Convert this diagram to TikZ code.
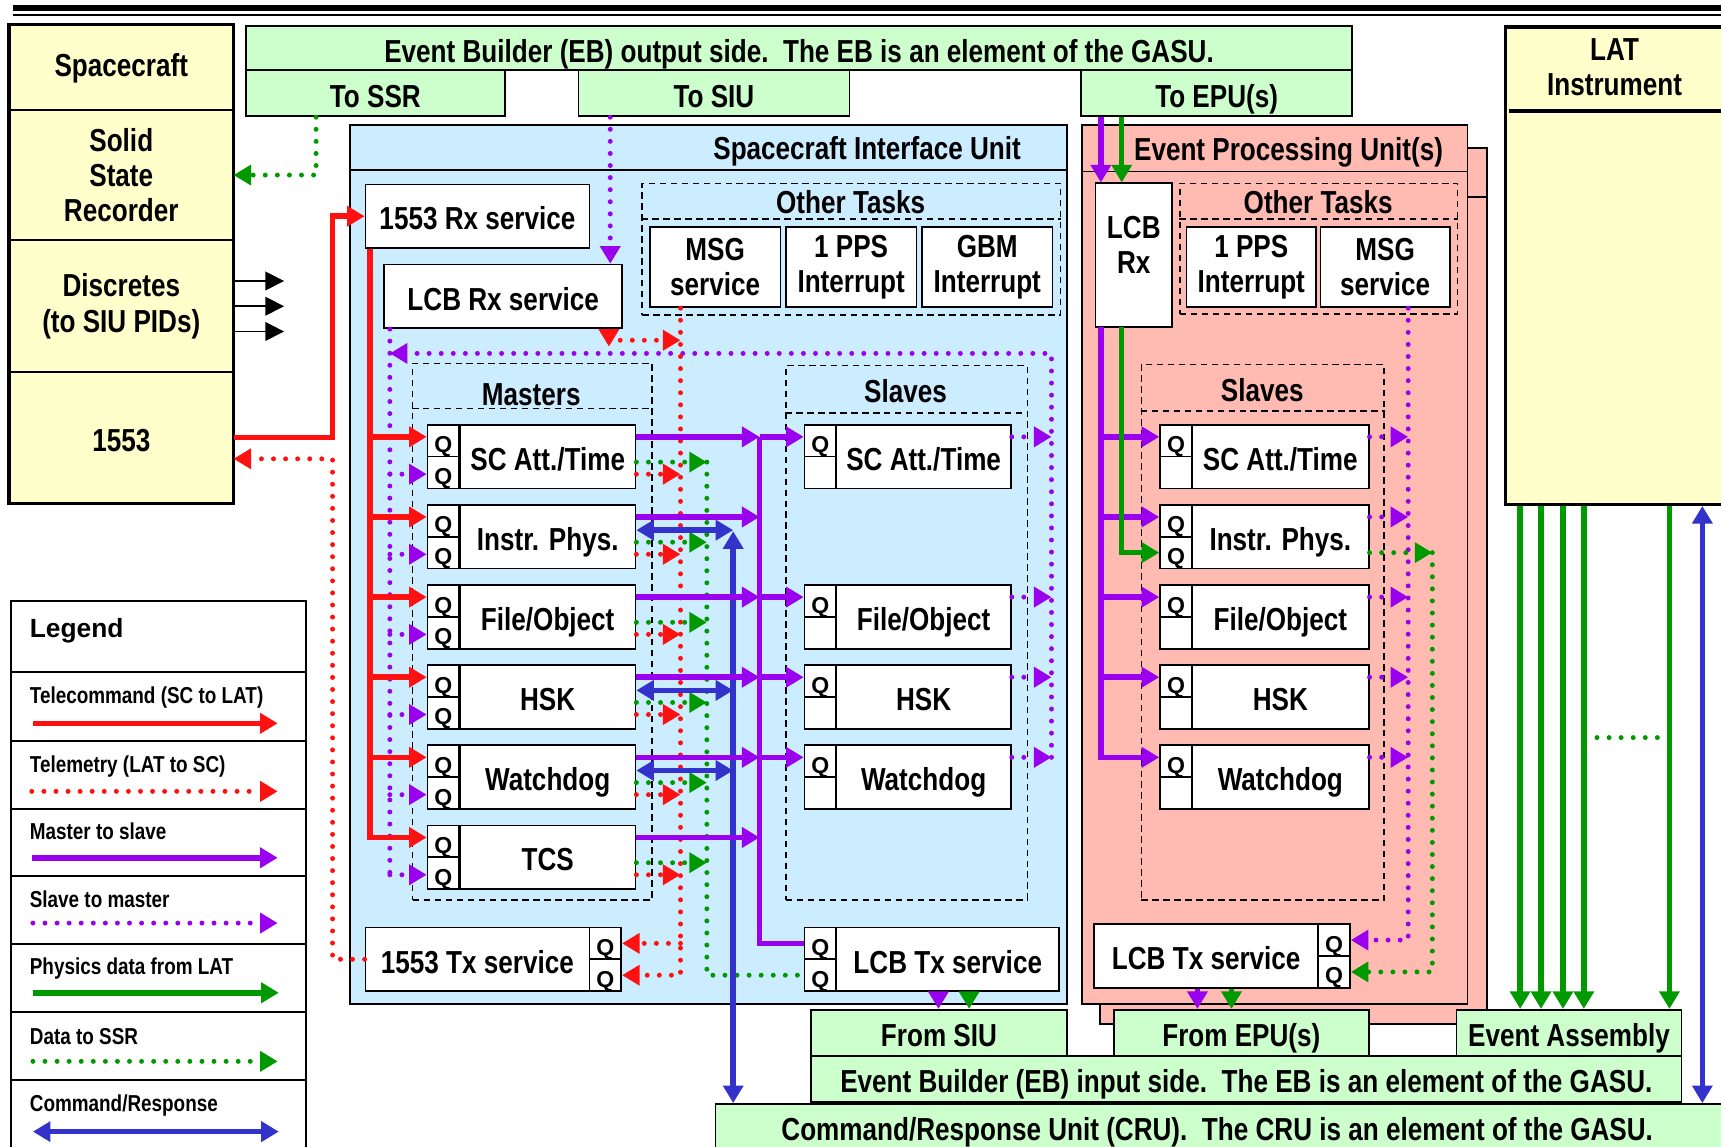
\documentclass[tikz,border=0pt]{standalone}
\usepackage{fontspec}
\setmainfont{Liberation Sans}[FakeStretch=0.82]
\newfontfamily\legendfont{Liberation Sans}
\usetikzlibrary{arrows.meta,calc}
\definecolor{tcred}{RGB}{255,17,17}
\definecolor{msviolet}{RGB}{153,0,238}
\definecolor{physgreen}{RGB}{0,153,0}
\definecolor{crblue}{RGB}{51,51,204}
\definecolor{siubg}{RGB}{204,236,255}
\definecolor{epubg}{RGB}{255,187,178}
\definecolor{scbg}{RGB}{255,255,204}
\definecolor{gasubg}{RGB}{204,255,204}

\begin{document}
\begin{tikzpicture}[x=1pt,y=-1pt,
    every node/.style={font=\bfseries\fontsize{29}{32}\selectfont,inner sep=0pt,align=center},
    oneline/.style={text height=25pt,text depth=0pt},
    boxline/.style={draw,line width=1.6pt},
    scrow/.style={boxline,fill=scbg,minimum width=203pt},
    gasu/.style={boxline,fill=gasubg,minimum height=42pt,oneline},
    task/.style={boxline,fill=white,minimum height=58pt,oneline},
    task2/.style={boxline,fill=white,minimum width=119pt,minimum height=73pt},
    qcell/.style={boxline,fill=white,minimum width=29pt,minimum height=29pt,text height=22pt,text depth=0pt,font=\legendfont\bfseries\fontsize{21}{21}\selectfont},
    grp/.style={draw,line width=1.4pt,dash pattern=on 6pt off 4pt},
    bigtip/.style={>={Triangle[length=16pt,width=18pt]}},
    dotty/.style={line width=4.5pt,dash pattern=on 0pt off 11pt,line cap=round},
    tc/.style={tcred,line width=5pt,bigtip,->},
    tm/.style={tcred,dotty,bigtip,->},
    m2s/.style={msviolet,line width=5pt,bigtip,->},
    s2m/.style={msviolet,dotty,bigtip,->},
    phys/.style={physgreen,line width=5pt,bigtip,->},
    ssrdata/.style={physgreen,dotty,bigtip,->},
    cmdrsp/.style={crblue,line width=5pt,bigtip,<->},
    discarrow/.style={line width=1.5pt,-{Triangle[length=17pt,width=17pt]}},
    legtxt/.style={anchor=west,text height=15pt,text depth=0pt,font=\bfseries\fontsize{21}{22}\selectfont}]
  \path[use as bounding box] (0,0) rectangle (1568,1045);
  \clip (0,0) rectangle (1568,1045);
  \draw[line width=5.5pt] (11.5,7.5) -- (1568,7.5);
  \draw[line width=1.5pt] (11.5,13.5) -- (1568,13.5);

  % spacecraft side
  \node[scrow,text height=17pt,text depth=0pt,minimum height=77pt] (sctitle) at (110.5,61.5) {Spacecraft};
  \node[scrow,minimum height=119pt] (ssrrec) at (110.5,159.5) {Solid\\State\\Recorder};
  \node[scrow,minimum height=120pt] (discr) at (110.5,279) {Discretes\\(to SIU PIDs)};
  \node[scrow,oneline,minimum height=119pt] (sc1553) at (110.5,398.5) {1553};
  \draw[line width=3pt] (sctitle.north west) rectangle (sc1553.south east);
  \foreach \dy in {-23,0,23}
    \draw[discarrow] ($(discr.east)+(0,\dy)$) -- ++(46,0);

  % event builder output side
  \node[gasu,minimum width=1008pt,minimum height=40pt] (ebout) at (728,44) {Event Builder (EB) output side.\ \ The EB is an element of the GASU.};
  \node[gasu,minimum width=236pt] (tossr) at (342,85) {To SSR};
  \node[gasu,minimum width=247pt] (tosiu) at (650.5,85) {To SIU};
  \node[gasu,minimum width=247pt] (toepu) at (1108.5,85) {To EPU(s)};

  % containers
  \node[boxline,fill=siubg,minimum width=653pt,minimum height=801pt] (siu) at (645.5,514.5) {};
  \draw[boxline] ($(siu.north west)+(0,42)$) -- ($(siu.north east)+(0,42)$);
  \node[anchor=base] (siutitle) at (790,145.5) {Spacecraft Interface Unit};
  \node[boxline,fill=epubg,minimum width=353pt,minimum height=798pt] (epuback) at (1178.5,534) {};
  \draw[boxline] ($(epuback.north west)+(0,45)$) -- ($(epuback.north east)+(0,45)$);
  \node[boxline,fill=epubg,minimum width=351pt,minimum height=801pt] (epu) at (1161.5,514.5) {};
  \draw[boxline] ($(epu.north west)+(0,43)$) -- ($(epu.north east)+(0,43)$);
  \node[anchor=base] (eputitle) at (1174,146) {Event Processing Unit(s)};
  \node[boxline,line width=3pt,fill=scbg,minimum width=220pt,minimum height=435pt,anchor=north west] (lat) at (1370,23) {};
  \draw[line width=3pt] ($(lat.north west)+(5,78)$) -- ($(lat.north east)+(0,78)$);
  \node (lattitle) at (1471,61) {LAT\\Instrument};

  % SIU tasks
  \node[task,minimum width=204pt] (rx1553) at (435,197) {1553 Rx service};
  \node[task,minimum width=217pt] (lcbrx) at (458.5,270) {LCB Rx service};
  \node[grp,minimum width=381pt,minimum height=120pt] (siuother) at (775.5,227) {};
  \draw[grp] ($(siuother.north west)+(0,33)$) -- ($(siuother.north east)+(0,33)$);
  \node[anchor=base] (siuothertitle) at (775,194.5) {Other Tasks};
  \node[task2] (siumsg) at (651.5,243.5) {MSG\\service};
  \node[task2] (siupps) at (775.5,243.5) {1 PPS\\Interrupt};
  \node[task2] (siugbm) at (899.5,243.5) {GBM\\Interrupt};

  \node[grp,minimum width=218pt,minimum height=489pt] (masters) at (485,575.5) {};
  \draw[grp] ($(masters.north west)+(0,42)$) -- ($(masters.north east)+(0,42)$);
  \node[anchor=base] (masterstitle) at (484,369) {Masters};
  \node[grp,minimum width=220pt,minimum height=487pt] (slaves) at (826,576.5) {};
  \draw[grp] ($(slaves.north west)+(0,44)$) -- ($(slaves.north east)+(0,44)$);
  \node[anchor=base] (slavestitle) at (825,367) {Slaves};

  \foreach \i/\t/\lbl in {1/387/{SC Att./Time},2/460/{Instr. Phys.},3/533/{File/Object},4/606/HSK,5/679/Watchdog,6/752/TCS}{
    \node[qcell] (mqa\i) at (404,\t+14.5) {Q};
    \node[qcell] (mqb\i) at (404,\t+43.5) {Q};
    \node[task,minimum width=160pt] (mst\i) at (499,\t+29) {\lbl};
    \coordinate (lva\i) at (0,\t+11);
    \coordinate (lvb\i) at (0,\t+23);
    \coordinate (lvc\i) at (0,\t+34);
    \coordinate (lvd\i) at (0,\t+45);
  }
  \foreach \i/\t/\lbl in {1/387/{SC Att./Time},3/533/{File/Object},4/606/HSK,5/679/Watchdog}{
    \node[qcell] (sqa\i) at (747.5,\t+14.5) {Q};
    \node[qcell] (sqb\i) at (747.5,\t+43.5) {};
    \node[task,minimum width=159pt] (sst\i) at (841.5,\t+29) {\lbl};
  }

  \node[task,minimum width=204pt] (tx1553) at (435,874) {1553 Tx service};
  \node[qcell] (txqa) at (551.5,859.5) {Q};
  \node[qcell] (txqb) at (551.5,888.5) {Q};
  \node[qcell] (ltqa) at (747.5,859.5) {Q};
  \node[qcell] (ltqb) at (747.5,888.5) {Q};
  \node[task,minimum width=203pt] (ltl) at (863.5,874) {LCB Tx service};

  % EPU tasks
  \node[boxline,fill=white,minimum width=70pt,minimum height=131pt,text depth=18pt] (elcbrx) at (1033,232.5) {LCB\\Rx};
  \node[grp,minimum width=253pt,minimum height=119pt] (epuother) at (1201.5,226.5) {};
  \draw[grp] ($(epuother.north west)+(0,33)$) -- ($(epuother.north east)+(0,33)$);
  \node[anchor=base] (epuothertitle) at (1201,194.5) {Other Tasks};
  \node[task2,minimum width=118pt] (epupps) at (1140,243.5) {1 PPS\\Interrupt};
  \node[task2,minimum width=118pt] (epumsg) at (1262,243.5) {MSG\\service};
  \node[grp,minimum width=221pt,minimum height=488pt] (eslaves) at (1150.5,576) {};
  \draw[grp] ($(eslaves.north west)+(0,43)$) -- ($(eslaves.north east)+(0,43)$);
  \node[anchor=base] (eslavestitle) at (1150,366) {Slaves};
  \foreach \i/\t/\lbl/\qb in {1/387/{SC Att./Time}/{},2/460/{Instr. Phys.}/Q,3/533/{File/Object}/{},4/606/HSK/{},5/679/Watchdog/{}}{
    \node[qcell] (eqa\i) at (1071.5,\t+14.5) {Q};
    \node[qcell] (eqb\i) at (1071.5,\t+43.5) {\qb};
    \node[task,minimum width=161pt] (est\i) at (1166.5,\t+29) {\lbl};
  }
  \node[task,minimum width=204pt] (eltl) at (1099,871) {LCB Tx service};
  \node[qcell] (eltqa) at (1215.5,856.5) {Q};
  \node[qcell] (eltqb) at (1215.5,885.5) {Q};

  % event builder input side and CRU
  \node[gasu,minimum width=233pt] (fromsiu) at (855.5,941) {From SIU};
  \node[gasu,minimum width=232pt] (fromepu) at (1131,941) {From EPU(s)};
  \node[gasu,minimum width=205pt] (evasm) at (1429.5,941) {Event Assembly};
  \node[gasu,minimum width=793pt] (ebin) at (1135.5,983) {Event Builder (EB) input side.\ \ The EB is an element of the GASU.};
  \node[gasu,minimum width=940pt,minimum height=45pt,anchor=north west] (cru) at (651,1005) {};
  \node[oneline] (crutext) at (1109,1027) {Command/Response Unit (CRU).\ \ The CRU is an element of the GASU.};

  % legend
  \node[boxline,fill=white,minimum width=269pt,minimum height=520pt,anchor=north west] (legend) at (9,547) {};
  \foreach \y in {612,675,737,798,860,922,984}
    \draw[boxline] (legend.west |- 0,\y) -- (legend.east |- 0,\y);
  \node[anchor=base west,font=\legendfont\bfseries\fontsize{24}{24}\selectfont] (legtitle) at (27,581) {Legend};
  \node[legtxt] (lgtc) at (27,633) {Telecommand (SC to LAT)};
  \node[legtxt] (lgtm) at (27,696) {Telemetry (LAT to SC)};
  \node[legtxt] (lgms) at (27,757.5) {Master to slave};
  \node[legtxt] (lgsm) at (27,819) {Slave to master};
  \node[legtxt] (lgph) at (27,880.5) {Physics data from LAT};
  \node[legtxt] (lgssr) at (27,944) {Data to SSR};
  \node[legtxt] (lgcr) at (27,1005) {Command/Response};
  \draw[tc] ($(lgtc.west)+(3,26)$) -- ++(223,0);
  \draw[tm] ($(lgtm.west)+(2,25)$) -- ++(224,0);
  \draw[m2s] ($(lgms.west)+(2,24)$) -- ++(224,0);
  \draw[s2m] ($(lgsm.west)+(3,22)$) -- ++(223,0);
  \draw[phys] ($(lgph.west)+(3,24)$) -- ++(224,0);
  \draw[ssrdata] ($(lgssr.west)+(3,23)$) -- ++(223,0);
  \draw[cmdrsp] ($(lgcr.west)+(3,26)$) -- ++(224,0);

  % bus coordinates
  \coordinate (tcbus) at ($(rx1553.south west)+(5,0)$);
  \coordinate (tcup) at (303,197);
  \coordinate (tmup) at (303,418);
  \coordinate (s2mbus) at ($(lcbrx.south west)+(6,0)$);
  \coordinate (tmbus) at (620,280);
  \coordinate (tmjoin) at (620,310);
  \coordinate (ssrbus) at (644,421);
  \coordinate (crbus) at (668,484);
  \coordinate (m2sbus) at (692,398);
  \coordinate (s2mret) at (958,322);
  \coordinate (ssrdrop) at (288,0);
  \coordinate (lcbin) at (556,0);
  \coordinate (epm2s) at (1003,298);
  \coordinate (epphys) at (1022,298);
  \coordinate (eps2m) at (1283,280);
  \coordinate (epssr) at (1305,0);
  \coordinate (siuoutA) at (855,0);
  \coordinate (siuoutB) at (883,0);
  \coordinate (epuoutA) at (1091,0);
  \coordinate (epuoutB) at (1122,0);
  \coordinate (latmore) at (1455,672);

  % dotted flows
  \draw[ssrdata] (tossr.south west -| ssrdrop) |- (ssrrec.east);
  \draw[s2m] (tosiu.south -| lcbin) -- (lcbrx.north -| lcbin);
  \draw[tm] (tx1553.west) -| (tmup) -- (sc1553.east |- tmup);
  \draw[s2m,-] (s2mbus) -- (s2mbus |- lvd6);
  \draw[s2m] (s2mret |- lva5) -- (s2mret) -- (s2mbus |- s2mret);
  \draw[tm] (siumsg.south -| tmbus) |- (txqb.east);
  \draw[tm] (tmbus |- txqa.east) -- (txqa.east);
  \draw[tm,{Triangle[reversed,length=16pt,width=18pt]}->] ($(lcbrx.south east)+(-13,0)$) |- (tmjoin);
  \draw[ssrdata,-] (ssrbus) |- (ltqb.west);
  \foreach \i in {1,...,6}{
    \draw[s2m] (s2mbus |- lvd\i) -- (mqb\i.west |- lvd\i);
    \draw[tm] (mst\i.east |- lvd\i) -- (tmbus |- lvd\i);
    \draw[ssrdata] (mst\i.east |- lvc\i) -- (ssrbus |- lvc\i);
  }
  \foreach \i in {1,3,4,5}
    \draw[s2m] (sst\i.east |- lva\i) -- (s2mret |- lva\i);
  \foreach \i in {1,...,5}
    \draw[s2m] (est\i.east |- lva\i) -- (eps2m |- lva\i);
  \draw[s2m] (epumsg.south -| eps2m) |- (eltqa.east);
  \draw[ssrdata] (est2.east |- eqb2) -- (epssr |- eqb2);
  \draw[ssrdata] (epssr |- eqb2) |- (eltqb.east);
  \draw[ssrdata,-] (latmore) -- ++(60,0);

  % command/response
  \draw[cmdrsp] (crbus) -- (crbus |- cru.north);
  \foreach \i in {2,4,5}
    \draw[cmdrsp] (mst\i.east |- lvb\i) -- (crbus |- lvb\i);
  \draw[cmdrsp] (lat.south -| 1551,0) -- (cru.north -| 1551,0);

  % master to slave
  \draw[m2s,-] (m2sbus) |- (ltqa.west);
  \foreach \i in {1,...,6}
    \draw[m2s] (mst\i.east |- lva\i) -- (m2sbus |- lva\i);
  \foreach \i in {1,3,4,5}
    \draw[m2s] (m2sbus |- lva\i) -- (sqa\i.west |- lva\i);
  \draw[m2s] (toepu.south -| epm2s) -- (elcbrx.north -| epm2s);
  \draw[m2s] (epm2s) |- (eqa5.west |- lva5);
  \foreach \i in {1,...,4}
    \draw[m2s] (epm2s |- lva\i) -- (eqa\i.west |- lva\i);
  \draw[m2s] (ltl.south -| siuoutA) -- (fromsiu.north -| siuoutA);
  \draw[m2s] (eltl.south -| epuoutA) -- (fromepu.north -| epuoutA);

  % telecommand
  \draw[tc] (sc1553.east) -| (tcup) -- (rx1553.west);
  \draw[tc] (tcbus) |- (mqa6.west |- lva6);
  \foreach \i in {1,...,5}
    \draw[tc] (tcbus |- lva\i) -- (mqa\i.west |- lva\i);

  % physics data
  \draw[phys] (toepu.south -| epphys) -- (elcbrx.north -| epphys);
  \draw[phys] (epphys) |- (eqb2.west);
  \draw[phys] (ltl.south -| siuoutB) -- (fromsiu.north -| siuoutB);
  \draw[phys] (eltl.south -| epuoutB) -- (fromepu.north -| epuoutB);
  \foreach \x in {1385,1404,1424,1443,1521}
    \draw[phys] (lat.south -| \x,0) -- (evasm.north -| \x,0);
\end{tikzpicture}
\end{document}
